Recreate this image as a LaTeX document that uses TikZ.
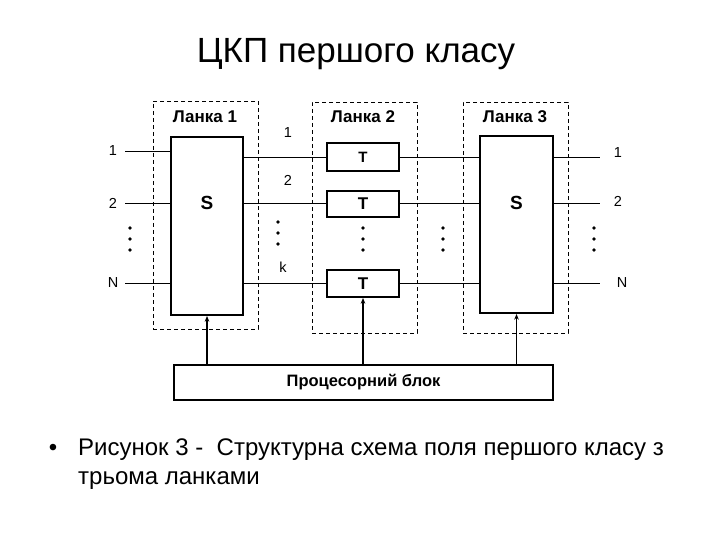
\documentclass[tikz,border=0pt]{standalone}
\usepackage{fontspec}
\setmainfont{Liberation Sans}
\usetikzlibrary{arrows.meta,positioning}

\begin{document}
\begin{tikzpicture}[x=1pt, y=-1pt,
    blk/.style={draw, line width=2pt, inner sep=0pt, font=\fontsize{19}{19}\selectfont\bfseries, text=black},
    tblk/.style={blk, minimum width=72pt, font=\fontsize{17}{17}\selectfont\bfseries},
    lanka/.style={draw, line width=0.6pt, dash pattern=on 4pt off 3pt, inner sep=0pt},
    wire/.style={line width=0.8pt},
    arr/.style={-{Stealth[length=2mm, width=1.6mm]}, line width=1.8pt},
    lbl/.style={font=\fontsize{14.5}{14.5}\selectfont, inner sep=0pt},
    hdr/.style={font=\fontsize{17}{17}\selectfont\bfseries, inner sep=0pt},
    dotcol/.style={fill=black},
]
\fill[white] (0,0) rectangle (720,540);
\useasboundingbox (0,0) rectangle (720,540);

% Title
\node[font=\fontsize{35}{35}\selectfont, anchor=base] (title) at (356,63) {ЦКП першого класу};

% Stages (dashed frames)
\node[lanka, minimum width=105pt, minimum height=228pt] (lanka1) at (205.5,215) {};
\node[lanka, minimum width=105pt, minimum height=231pt] (lanka2) at (364.5,217.5) {};
\node[lanka, minimum width=105pt, minimum height=231pt] (lanka3) at (515.5,217.5) {};
\node[hdr] (h1) at (205,117) {Ланка 1};
\node[hdr] (h2) at (363,117) {Ланка 2};
\node[hdr] (h3) at (515,117) {Ланка 3};

% Switches
\node[blk, minimum width=72pt, minimum height=178pt] (s1) at (207,226) {};
\node[blk, minimum width=73pt, minimum height=177pt] (s3) at (516.5,224.5) {};
\node[blk, draw=none] (s1txt) at (207,203) {S};
\node[blk, draw=none] (s3txt) at (516.5,203) {S};
\node[tblk, minimum height=28pt, font=\fontsize{15}{15}\selectfont\bfseries] (t1) at (363,157) {T};
\node[tblk, minimum height=26pt] (t2) at (363,204) {T};
\node[tblk, minimum height=27pt] (t3) at (363,283.5) {T};

% Processor
\node[blk, minimum width=379pt, minimum height=35pt, font=\fontsize{16.5}{16.5}\selectfont\bfseries] (proc) at (363.5,382.5) {Процесорний блок};

% Inputs
\coordinate (in1) at (125,151);
\coordinate (in2) at (125,203);
\coordinate (inN) at (125,283);
\draw[wire] (in1) -- (in1 -| s1.west);
\draw[wire] (in2) -- (in2 -| s1.west);
\draw[wire] (inN) -- (inN -| s1.west);
\node[lbl] (l1) at (113,151) {1};
\node[lbl] (l2) at (113,203) {2};
\node[lbl] (lN) at (113,283) {N};

% Links S -- T -- S
\draw[wire] (s1.east |- t1) -- (t1.west);
\draw[wire] (s1.east |- in2) -- (t2.west |- in2);
\draw[wire] (s1.east |- inN) -- (t3.west |- inN);
\draw[wire] (t1.east) -- (t1 -| s3.west);
\draw[wire] (t2.east |- in2) -- (s3.west |- in2);
\draw[wire] (t3.east |- inN) -- (s3.west |- inN);
\node[lbl] (m1) at (288,133) {1};
\node[lbl] (m2) at (288,180) {2};
\node[lbl] (mk) at (283,267) {k};

% Outputs
\coordinate (out1) at (600,157);
\coordinate (out2) at (600,203);
\coordinate (outN) at (600,283);
\draw[wire] (out1 -| s3.east) -- (out1);
\draw[wire] (out2 -| s3.east) -- (out2);
\draw[wire] (outN -| s3.east) -- (outN);
\node[lbl] (r1) at (618,153) {1};
\node[lbl] (r2) at (618,201) {2};
\node[lbl] (rN) at (622,283) {N};

% Dots
\foreach \x/\y in {130/228, 278/222, 363/228, 443/228, 594/228}
  \foreach \d in {0,11,22}
    \fill[dotcol] (\x,\y+\d) circle (1.9pt);

% Control
\draw[arr] (s1.south |- proc.north) -- (s1.south);
\draw[arr] (t3.south |- proc.north) -- (t3.south);
\draw[arr, line width=0.8pt] (s3.south |- proc.north) -- (s3.south);

% Caption
\node[font=\fontsize{24}{24}\selectfont, anchor=base] (bul) at (53,455) {•};
\node[font=\fontsize{24}{24}\selectfont, anchor=base west, inner sep=0pt] (cap1) at (78,455) {Рисунок 3 -\ \ Структурна схема поля першого класу з};
\node[font=\fontsize{24}{24}\selectfont, anchor=base west, inner sep=0pt] (cap2) at (78,484) {трьома ланками};
\end{tikzpicture}
\end{document}
